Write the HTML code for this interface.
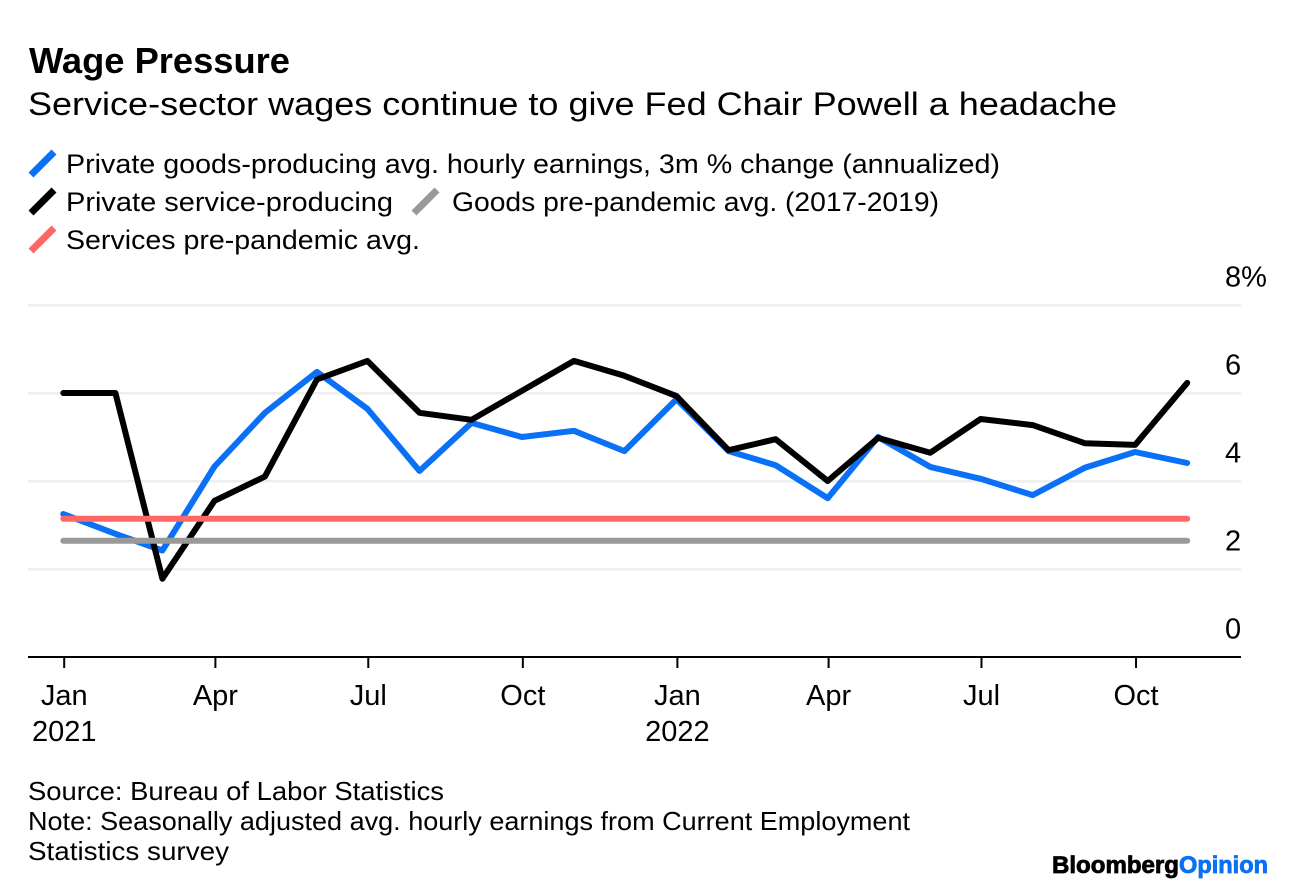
<!DOCTYPE html>
<html lang="en">
<head>
<meta charset="utf-8">
<title>Wage Pressure</title>
<style>
html,body{margin:0;padding:0;background:#fff;width:1296px;height:890px;overflow:hidden}
svg{display:block;font-family:"Liberation Sans",sans-serif;fill:#000}
</style>
</head>
<body>
<svg id="chart" width="1296" height="890" viewBox="0 0 1296 890" xmlns="http://www.w3.org/2000/svg">
  <rect width="1296" height="890" fill="#fff"/>
  <text x="29" y="73" font-size="36" font-weight="700" textLength="261" lengthAdjust="spacingAndGlyphs">Wage Pressure</text>
  <text x="28" y="115" font-size="32" textLength="1089" lengthAdjust="spacingAndGlyphs">Service-sector wages continue to give Fed Chair Powell a headache</text>

  <g font-size="27">
    <line x1="31" y1="175" x2="54" y2="152" stroke="#0a70f5" stroke-width="7"/>
    <text x="66" y="173" textLength="934" lengthAdjust="spacingAndGlyphs">Private goods-producing avg. hourly earnings, 3m % change (annualized)</text>
    <line x1="31" y1="213" x2="54" y2="190" stroke="#000" stroke-width="7"/>
    <text x="66" y="211" textLength="327" lengthAdjust="spacingAndGlyphs">Private service-producing</text>
    <line x1="414" y1="213" x2="437" y2="190" stroke="#999" stroke-width="7"/>
    <text x="452" y="211" textLength="487" lengthAdjust="spacingAndGlyphs">Goods pre-pandemic avg. (2017-2019)</text>
    <line x1="31" y1="251" x2="54" y2="228" stroke="#ff6666" stroke-width="7"/>
    <text x="66" y="249" textLength="354" lengthAdjust="spacingAndGlyphs">Services pre-pandemic avg.</text>
  </g>

  <g id="grid"></g>
  <g id="yticks"></g>
  <g id="series"></g>
  <line x1="28" y1="657" x2="1241" y2="657" stroke="#000" stroke-width="2"/>
  <g id="xticks"></g>

  <g font-size="26">
    <text x="28" y="800" textLength="416" lengthAdjust="spacingAndGlyphs">Source: Bureau of Labor Statistics</text>
    <text x="28" y="830" textLength="882" lengthAdjust="spacingAndGlyphs">Note: Seasonally adjusted avg. hourly earnings from Current Employment</text>
    <text x="28" y="860" textLength="201" lengthAdjust="spacingAndGlyphs">Statistics survey</text>
  </g>

  <g font-size="24" font-weight="700">
    <text x="1052" y="873" textLength="127" lengthAdjust="spacingAndGlyphs" stroke="#000" stroke-width=".8">Bloomberg</text>
    <text x="1179" y="873" textLength="89" lengthAdjust="spacingAndGlyphs" fill="#0a70f5" stroke="#0a70f5" stroke-width=".8">Opinion</text>
  </g>
</svg>
<script>
var months = ['2021-01','2021-02','2021-03','2021-04','2021-05','2021-06','2021-07','2021-08','2021-09','2021-10','2021-11','2021-12','2022-01','2022-02','2022-03','2022-04','2022-05','2022-06','2022-07','2022-08','2022-09','2022-10','2022-11'];
var goodsValues = [3.25,2.8,2.42,4.33,5.55,6.48,5.64,4.23,5.32,5.0,5.14,4.68,5.86,4.68,4.36,3.61,5.0,4.32,4.05,3.68,4.3,4.66,4.41];
var servicesValues = [6.0,6.0,1.78,3.55,4.1,6.31,6.73,5.55,5.39,6.05,6.73,6.39,5.93,4.7,4.95,4.0,4.98,4.64,5.41,5.27,4.86,4.82,6.23];
var goodsAvg = 2.64;
var servicesAvg = 3.14;
var yTickValues = [0,2,4,6,8];
var yTickLabels = ['0','2','4','6','8%'];
var xTickMonths = ['2021-01','2021-04','2021-07','2021-10','2022-01','2022-04','2022-07','2022-10'];
var xTickLabels = ['Jan','Apr','Jul','Oct','Jan','Apr','Jul','Oct'];
var xTickYears = ['2021','','','','2022','','',''];

var NS = 'http://www.w3.org/2000/svg';
function days(m) {
  var p = m.split('-');
  return (Date.UTC(+p[0], +p[1] - 1, 1) - Date.UTC(2021, 0, 1)) / 86400000;
}
function xScale(m) { return 63.3 + days(m) * 1.68; }
function yScale(v) { return 657 - v * 44; }
function make(tag, parent) {
  var el = document.createElementNS(NS, tag);
  document.getElementById(parent).appendChild(el);
  return el;
}
function linePath(vals) {
  return vals.map(function (v, i) {
    return (i ? 'L' : 'M') + xScale(months[i]).toFixed(1) + ' ' + yScale(v).toFixed(1);
  }).join(' ');
}

yTickValues.forEach(function (v, i) {
  if (v > 0) {
    var g = make('line', 'grid');
    
    
    g.setAttribute('x1', 28);
    g.setAttribute('x2', 1241);
    g.setAttribute('y1', yScale(v) + 0.3);
    g.setAttribute('y2', yScale(v) + 0.3);
    g.setAttribute('stroke', '#eeeeee');
    g.setAttribute('stroke-width', 2.5);
  }
  var t = make('text', 'yticks');
  
  
  t.setAttribute('x', 1225);
  t.setAttribute('y', yScale(v) - 18.5);
  t.setAttribute('font-size', 29);
  t.textContent = yTickLabels[i];
});

xTickMonths.forEach(function (m, i) {
  var x = xScale(m) + 0.9;
  var tk = make('line', 'xticks');
  
  
  tk.setAttribute('x1', x);
  tk.setAttribute('x2', x);
  tk.setAttribute('y1', 657);
  tk.setAttribute('y2', 668);
  tk.setAttribute('stroke', '#000');
  tk.setAttribute('stroke-width', 2);
  var t = make('text', 'xticks');
  
  
  t.setAttribute('x', x);
  t.setAttribute('y', 705);
  t.setAttribute('font-size', 29);
  t.setAttribute('text-anchor', 'middle');
  t.textContent = xTickLabels[i];
  if (xTickYears[i]) {
    var yr = make('text', 'xticks');
    
    
    yr.setAttribute('x', x);
    yr.setAttribute('y', 741);
    yr.setAttribute('font-size', 29);
    yr.setAttribute('text-anchor', 'middle');
    yr.textContent = xTickYears[i];
  }
});

var blue = make('path', 'series');


blue.setAttribute('d', linePath(goodsValues));
blue.setAttribute('fill', 'none');
blue.setAttribute('stroke', '#0a70f5');
blue.setAttribute('stroke-width', 6);
blue.setAttribute('stroke-linejoin', 'round');
blue.setAttribute('stroke-linecap', 'round');

var black = make('path', 'series');


black.setAttribute('d', linePath(servicesValues));
black.setAttribute('fill', 'none');
black.setAttribute('stroke', '#000');
black.setAttribute('stroke-width', 6);
black.setAttribute('stroke-linejoin', 'round');
black.setAttribute('stroke-linecap', 'round');

var gray = make('path', 'series');


gray.setAttribute('d', linePath(months.map(function () { return goodsAvg; })));
gray.setAttribute('fill', 'none');
gray.setAttribute('stroke', '#999999');
gray.setAttribute('stroke-width', 6);
gray.setAttribute('stroke-linecap', 'round');

var red = make('path', 'series');


red.setAttribute('d', linePath(months.map(function () { return servicesAvg; })));
red.setAttribute('fill', 'none');
red.setAttribute('stroke', '#ff6666');
red.setAttribute('stroke-width', 6);
red.setAttribute('stroke-linecap', 'round');
</script>
</body>
</html>
